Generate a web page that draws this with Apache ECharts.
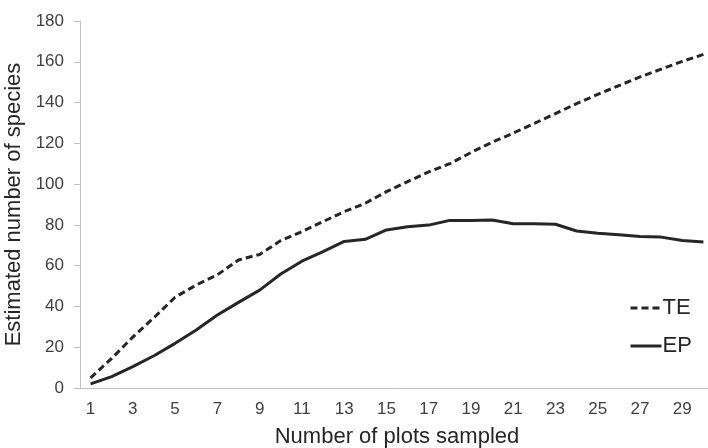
<!DOCTYPE html>
<html>
<head>
<meta charset="utf-8">
<script src="https://cdn.jsdelivr.net/npm/echarts@6/dist/echarts.min.js"></script>
<style>
html,body{margin:0;padding:0;background:#fff;}
#chart{width:708px;height:448px;}
</style>
</head>
<body>
<div id="chart"></div>
<script>
var categories = ["1","2","3","4","5","6","7","8","9","10","11","12","13","14","15","16","17","18","19","20","21","22","23","24","25","26","27","28","29","30"];
var teValues = [5, 14.5, 25, 34.5, 44.5, 50.5, 55.5, 62.8, 65.5, 72.3, 76.7, 81.6, 86.5, 90.6, 96.3, 101.2, 106, 110, 115.5, 120.5, 125, 129.8, 134.6, 139.5, 144, 148.3, 152.6, 156.4, 160.2, 163.6];
var epValues = [2, 5.6, 10.5, 15.8, 21.9, 28.4, 35.8, 42, 48, 55.9, 62.2, 66.9, 71.9, 72.9, 77.5, 79.1, 79.9, 82.2, 82.2, 82.4, 80.6, 80.6, 80.3, 77, 75.9, 75.2, 74.3, 74, 72.3, 71.6];
var yTicks = {min: 0, max: 180, interval: 20};

var chart = echarts.init(document.getElementById('chart'), null, {renderer: 'canvas'});
var font = 'Liberation Sans, Arial, sans-serif';
chart.setOption({
  animation: false,
  backgroundColor: '#ffffff',
  grid: {left: 80, top: 21, bottom: 60, width: 634, containLabel: false, outerBoundsMode: 'none'},
  legend: {
    orient: 'vertical',
    left: 624,
    top: 292,
    itemWidth: 31,
    itemHeight: 14,
    itemGap: 16,
    itemStyle: {opacity: 0},
    lineStyle: {width: 3},
    textStyle: {fontFamily: font, fontSize: 22, color: '#262626', padding: [0,0,0,-4]},
    data: ['TE', 'EP']
  },
  xAxis: {
    type: 'category',
    data: categories,
    boundaryGap: true,
    name: 'Number of plots sampled',
    nameLocation: 'middle',
    nameGap: 38,
    nameTextStyle: {fontFamily: font, fontSize: 22, color: '#262626'},
    axisLine: {lineStyle: {color: '#bfbfbf', width: 1}},
    axisTick: {show: false},
    axisLabel: {interval: 1, margin: 13, fontFamily: font, fontSize: 17, color: '#404040'},
    splitLine: {show: false}
  },
  yAxis: {
    type: 'value',
    min: yTicks.min,
    max: yTicks.max,
    interval: yTicks.interval,
    name: 'Estimated number of species',
    nameLocation: 'middle',
    nameGap: 52,
    nameTextStyle: {fontFamily: font, fontSize: 22, color: '#262626'},
    axisLine: {show: true, lineStyle: {color: '#bfbfbf', width: 1}},
    axisTick: {show: true, length: 6, lineStyle: {color: '#bfbfbf'}},
    axisLabel: {margin: 16, fontFamily: font, fontSize: 17, color: '#404040'},
    splitLine: {show: false}
  },
  series: [
    {
      name: 'TE', type: 'line', data: teValues, symbol: 'none', smooth: false,
      lineStyle: {color: '#262626', width: 3, type: [7, 4]},
      itemStyle: {color: '#262626'}
    },
    {
      name: 'EP', type: 'line', data: epValues, symbol: 'none', smooth: false,
      lineStyle: {color: '#262626', width: 3, type: 'solid'},
      itemStyle: {color: '#262626'}
    }
  ]
});
</script>
</body>
</html>
